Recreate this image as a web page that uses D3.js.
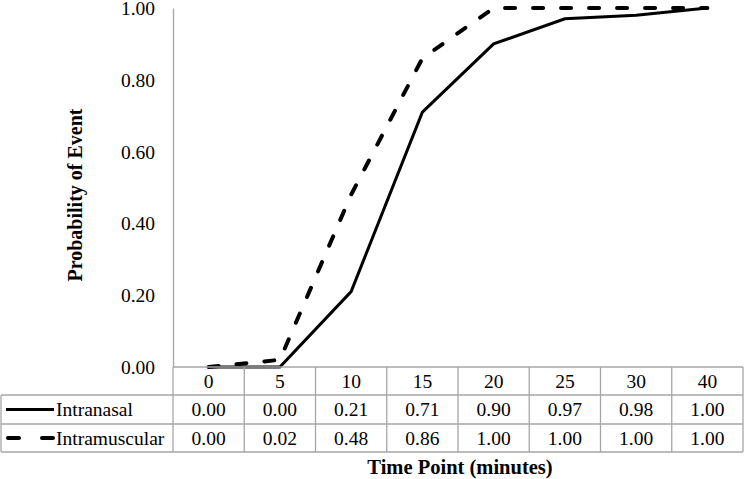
<!DOCTYPE html>
<html><head><meta charset="utf-8">
<script src="https://cdn.jsdelivr.net/npm/d3@7"></script>
<style>body{margin:0;background:#fff}svg{display:block}</style>
</head><body><svg id="c" width="748" height="479"></svg>
<script>
const categories = ["0","5","10","15","20","25","30","40"];
const intranasal = [0.00,0.00,0.21,0.71,0.90,0.97,0.98,1.00];
const intramuscular = [0.00,0.02,0.48,0.86,1.00,1.00,1.00,1.00];
const yTicks = [0,0.2,0.4,0.6,0.8,1.0];
const seriesNames = ["Intranasal","Intramuscular"];

(function(){
const FONT = "Liberation Serif";
const FS = "19.5px";
const svg = d3.select("#c");
const pL = 173, pR = 743, pT = 8, pB = 367;
const x = d3.scaleBand().domain(categories).range([pL,pR]).padding(0);
const y = d3.scaleLinear().domain([0,1]).range([pB,pT]);
const grey = "#a6a6a6";
const txt = sel => sel.style("font-family",FONT).style("font-size",FS).attr("fill","#000");

// y axis
const yAxis = d3.axisLeft(y).tickValues(yTicks).tickFormat(d3.format(".2f")).tickSize(0).tickPadding(18);
const ya = svg.append("g").attr("transform",`translate(${pL},0)`).call(yAxis);
ya.select(".domain").attr("stroke",grey).attr("stroke-width",1.3);
ya.selectAll("text").call(txt).attr("dy","0.33em");

// lines
const line = d3.line().x((d,i)=>x(categories[i])+x.bandwidth()/2).y(d=>y(d));
svg.append("path").datum(intranasal).attr("d",line).attr("fill","none").attr("stroke","#000").attr("stroke-width",3);
svg.append("path").datum(intramuscular).attr("d",line).attr("fill","none").attr("stroke","#000").attr("stroke-width",4).attr("stroke-linecap","round").attr("stroke-dasharray","10,18");

// data table
const rowY = [367,395,424,452];
const tbl = svg.append("g");
tbl.append("line").attr("x1",pL).attr("x2",pR).attr("y1",rowY[0]).attr("y2",rowY[0]).attr("stroke",grey).attr("stroke-width",1.3);
[1,2,3].forEach(r=>{
  tbl.append("line").attr("x1",1).attr("x2",pR).attr("y1",rowY[r]).attr("y2",rowY[r]).attr("stroke",grey).attr("stroke-width",1.3);
});
categories.forEach((c)=>{
  tbl.append("line").attr("x1",x(c)).attr("x2",x(c)).attr("y1",rowY[0]).attr("y2",rowY[3]).attr("stroke",grey).attr("stroke-width",1.3);
});
tbl.append("line").attr("x1",pR).attr("x2",pR).attr("y1",rowY[0]).attr("y2",rowY[3]).attr("stroke",grey).attr("stroke-width",1.3);
tbl.append("line").attr("x1",1).attr("x2",1).attr("y1",rowY[1]).attr("y2",rowY[3]).attr("stroke",grey).attr("stroke-width",1.3);

const dy = 6.5;
categories.forEach((c,i)=>{
  const cx = x(c)+x.bandwidth()/2;
  tbl.append("text").call(txt).attr("x",cx).attr("y",(rowY[0]+rowY[1])/2+dy).attr("text-anchor","middle").text(c);
  tbl.append("text").call(txt).attr("x",cx).attr("y",(rowY[1]+rowY[2])/2+dy).attr("text-anchor","middle").text(d3.format(".2f")(intranasal[i]));
  tbl.append("text").call(txt).attr("x",cx).attr("y",(rowY[2]+rowY[3])/2+dy).attr("text-anchor","middle").text(d3.format(".2f")(intramuscular[i]));
});
const ly1 = (rowY[1]+rowY[2])/2, ly2 = (rowY[2]+rowY[3])/2;
tbl.append("line").attr("x1",6).attr("x2",54).attr("y1",ly1).attr("y2",ly1).attr("stroke","#000").attr("stroke-width",3);
tbl.append("line").attr("x1",8).attr("x2",53).attr("y1",ly2).attr("y2",ly2).attr("stroke","#000").attr("stroke-width",4).attr("stroke-linecap","round").attr("stroke-dasharray","11,23");
tbl.append("text").call(txt).attr("x",56).attr("y",ly1+dy).text(seriesNames[0]);
tbl.append("text").call(txt).attr("x",56).attr("y",ly2+dy).text(seriesNames[1]);

svg.append("text").call(txt).style("font-size","20.5px").attr("x",460).attr("y",474).attr("text-anchor","middle").attr("font-weight","bold").text("Time Point (minutes)");
svg.append("text").call(txt).style("font-size","20px").attr("transform",`translate(82,195) rotate(-90)`).attr("text-anchor","middle").attr("font-weight","bold").text("Probability of Event");
})();
</script></body></html>
